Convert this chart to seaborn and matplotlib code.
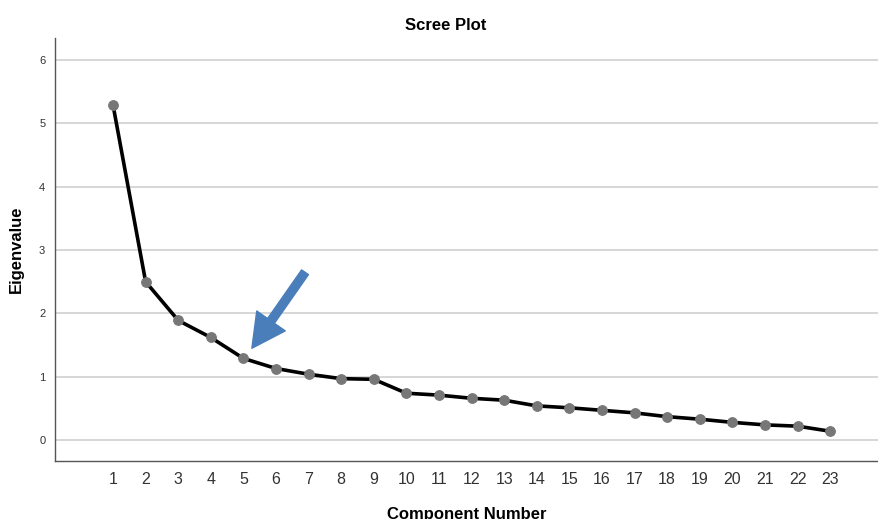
import matplotlib
matplotlib.use("Agg")
import matplotlib.pyplot as plt
import seaborn as sns
import pandas as pd

components = list(range(1, 24))
eigenvalues = [5.29, 2.50, 1.89, 1.62, 1.29, 1.13, 1.04, 0.97, 0.96, 0.74,
               0.71, 0.66, 0.63, 0.54, 0.51, 0.47, 0.43, 0.37, 0.33, 0.28,
               0.24, 0.22, 0.14]
y_ticks = [0, 1, 2, 3, 4, 5, 6]
arrow_tail = (6.89, 2.65)
arrow_tip = (5.26, 1.45)

df = pd.DataFrame({"Component Number": components, "Eigenvalue": eigenvalues})

sns.set_theme(style="white")
plt.rcParams["font.family"] = ["Liberation Sans", "DejaVu Sans"]

fig = plt.figure(figsize=(8.79, 5.19), dpi=100)
ax = fig.add_axes([0.0626, 0.1118, 0.9374, 0.815])

ax.yaxis.grid(True, color="#d0d0d0", linewidth=1.2)
ax.set_axisbelow(True)

sns.lineplot(data=df, x="Component Number", y="Eigenvalue", ax=ax,
             color="black", linewidth=2.6, marker="o", markersize=7,
             markerfacecolor="#777777", markeredgecolor="#777777", zorder=3)

ax.set_xlim(-0.78, 24.5)
ax.set_ylim(-0.33, 6.35)
ax.set_xticks(components)
ax.set_xticklabels([str(c) for c in components], fontsize=11.5, color="#333333")
ax.set_yticks(y_ticks)
ax.set_yticklabels([str(t) for t in y_ticks], fontsize=8, color="#333333")
ax.tick_params(axis="both", length=0)
ax.tick_params(axis="x", pad=8)
ax.tick_params(axis="y", pad=7)

for s in ["top", "right"]:
    ax.spines[s].set_visible(False)
for s in ["left", "bottom"]:
    ax.spines[s].set_color("#555555")
    ax.spines[s].set_linewidth(1.0)

ax.set_xlabel("Component Number", fontsize=12, fontweight="bold", labelpad=14,
              color="black")
ax.set_ylabel("Eigenvalue", fontsize=12, fontweight="bold", labelpad=11,
              color="black")
fig.text(446 / 879, 1 - 25 / 519, "Scree Plot", fontsize=12, fontweight="bold",
         ha="center", va="center", color="black")

ax.annotate("", xy=arrow_tip, xytext=arrow_tail,
            arrowprops=dict(arrowstyle="simple,head_length=24,head_width=25,tail_width=6",
                            mutation_scale=1, color="#4a7ebb", shrinkA=0, shrinkB=0),
            zorder=5)

fig.savefig("out.png", dpi=100)
